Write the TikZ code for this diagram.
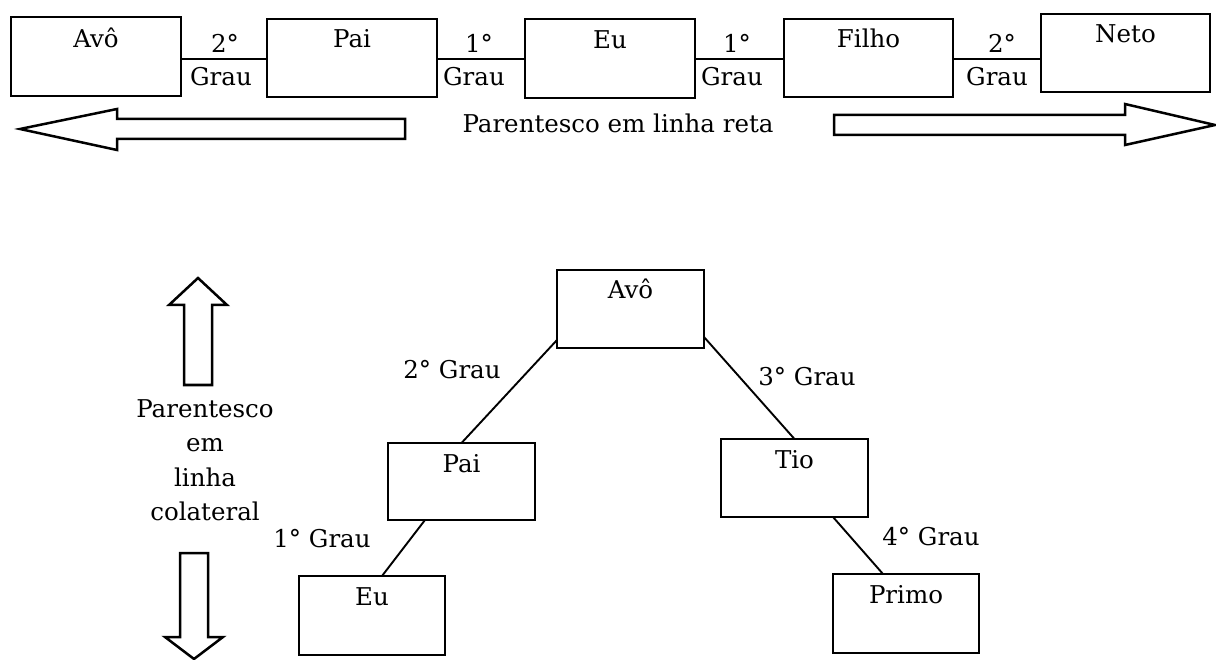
\documentclass[tikz,border=0pt]{standalone}
\usepackage{fontspec}
\setmainfont{DejaVu Serif}
\usetikzlibrary{calc}
\begin{document}
\begin{tikzpicture}[x=1pt,y=-1pt,
  box/.style={draw,line width=2.5pt,rectangle,inner sep=0pt,outer sep=0pt},
  lbl/.style={inner sep=0pt,font=\fontsize{24.5}{29}\selectfont,anchor=base},
  link/.style={line width=1.9pt},
  bigarrow/.style={draw,line width=2.5pt,line join=miter,fill=white}]
\useasboundingbox (0,0) rectangle (1216,660);

% ---------- top row ----------
\node[box,minimum width=170pt,minimum height=79pt] (avo) at (96,56.5) {};
\node[box,minimum width=170pt,minimum height=78pt] (pai) at (352,58) {};
\node[box,minimum width=170pt,minimum height=79pt] (eu) at (610,58.5) {};
\node[box,minimum width=169pt,minimum height=78pt] (filho) at (868.5,58) {};
\node[box,minimum width=169pt,minimum height=78pt] (neto) at (1125.5,53) {};

\node[lbl] (avo-t) at ($(avo.north)+(0,31)$) {Avô};
\node[lbl] (pai-t) at ($(pai.north)+(0,29)$) {Pai};
\node[lbl] (eu-t) at ($(eu.north)+(0,30)$) {Eu};
\node[lbl] (filho-t) at ($(filho.north)+(0,29)$) {Filho};
\node[lbl] (neto-t) at ($(neto.north)+(0,29)$) {Neto};

\coordinate (row) at (0,59);
\draw[link] (avo.east |- row) -- (pai.west |- row);
\draw[link] (pai.east |- row) -- (eu.west |- row);
\draw[link] (eu.east |- row) -- (filho.west |- row);
\draw[link] (filho.east |- row) -- (neto.west |- row);

\node[lbl] (g1a) at (225,53) {2°};
\node[lbl] (g1b) at (221,86) {Grau};
\node[lbl] (g2a) at (479,53) {1°};
\node[lbl] (g2b) at (474,86) {Grau};
\node[lbl] (g3a) at (737,53) {1°};
\node[lbl] (g3b) at (732,86) {Grau};
\node[lbl] (g4a) at (1002,53) {2°};
\node[lbl] (g4b) at (997,86) {Grau};

\node[lbl] (reta) at (618,133) {Parentesco em linha reta};

\draw[bigarrow] (20,129) -- (117,109) -- (117,119) -- (405,119) -- (405,139)
  -- (117,139) -- (117,150) -- cycle;
\draw[bigarrow] (1215,125) -- (1125,104) -- (1125,115) -- (834,115) -- (834,135)
  -- (1125,135) -- (1125,145) -- cycle;

% ---------- tree ----------
\node[box,minimum width=147pt,minimum height=78pt] (avo2) at (630.5,309) {};
\node[box,minimum width=147pt,minimum height=77pt] (pai2) at (461.5,481.5) {};
\node[box,minimum width=147pt,minimum height=78pt] (tio) at (794.5,478) {};
\node[box,minimum width=146pt,minimum height=79pt] (eu2) at (372,615.5) {};
\node[box,minimum width=146pt,minimum height=79pt] (primo) at (906,613.5) {};

\node[lbl] (avo2-t) at ($(avo2.north)+(0,29)$) {Avô};
\node[lbl] (pai2-t) at ($(pai2.north)+(0,29)$) {Pai};
\node[lbl] (tio-t) at ($(tio.north)+(0,29)$) {Tio};
\node[lbl] (eu2-t) at ($(eu2.north)+(0,29)$) {Eu};
\node[lbl] (primo-t) at ($(primo.north)+(0,29)$) {Primo};

\draw[link] ($(avo2.south west)+(0,-8)$) -- (pai2.north);
\draw[link] ($(avo2.south east)+(0,-11)$) -- (tio.north);
\draw[link] ($(pai2.south west)+(37,0)$) -- ($(eu2.north west)+(83,0)$);
\draw[link] ($(tio.south west)+(112,0)$) -- ($(primo.north west)+(50,0)$);

\node[lbl] (l2) at (452,378) {2° Grau};
\node[lbl] (l3) at (807,385) {3° Grau};
\node[lbl] (l1) at (322,547) {1° Grau};
\node[lbl] (l4) at (931,545) {4° Grau};

\draw[bigarrow] (198,278) -- (227,305) -- (212,305) -- (212,385) -- (184,385)
  -- (184,305) -- (169,305) -- cycle;
\draw[bigarrow] (194,659) -- (223,637) -- (208,637) -- (208,553) -- (180,553)
  -- (180,637) -- (165,637) -- cycle;

\node[inner sep=0pt,align=center,font=\fontsize{24.5}{34.5}\selectfont]
  (colat) at (205,460) {Parentesco\\em\\linha\\colateral};
\end{tikzpicture}
\end{document}
